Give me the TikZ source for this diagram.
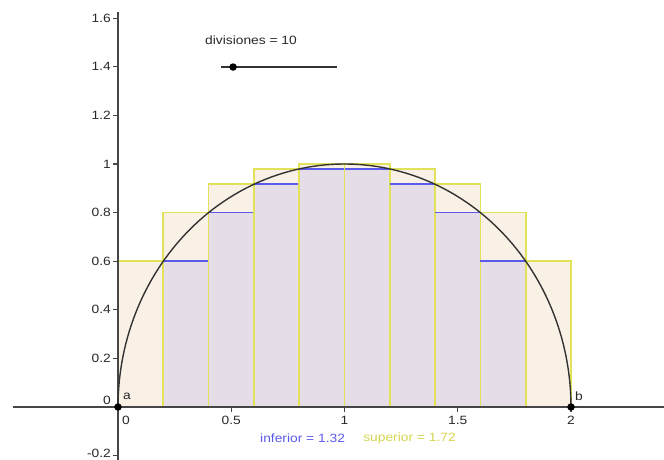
\documentclass[tikz,border=0pt]{standalone}
\usepackage{fontspec}
\setmainfont{Liberation Sans}[FakeStretch=1.15]
\usetikzlibrary{calc}
\definecolor{upfill}{RGB}{249,241,229}
\definecolor{lowfill}{RGB}{229,222,233}
\definecolor{sumyellow}{RGB}{225,225,90}
\definecolor{supyellow}{RGB}{212,212,80}
\definecolor{sumblue}{RGB}{90,90,235}
\definecolor{axisgray}{RGB}{70,70,70}
\definecolor{labelgray}{RGB}{40,40,40}

\begin{document}
\begin{tikzpicture}[
  x=226.5pt, y=243pt,
  font=\fontsize{12}{14}\selectfont,
  axis/.style={draw=axisgray, line width=1.5pt},
  tick/.style={draw=axisgray, line width=1.1pt},
  ticklab/.style={text=labelgray, inner sep=0pt},
  upbar/.style={draw=sumyellow, line width=1.6pt},
  lowtop/.style={draw=sumblue, line width=1.6pt},
  curve/.style={draw=black!80, line width=1.4pt},
  pnt/.style={circle, fill=black, inner sep=0pt, minimum size=7.5pt},
  ptlab/.style={text=labelgray, inner sep=0pt}
]

% Frame
\useasboundingbox (-0.52097,-0.21811) rectangle (2.41060,1.67490);

% Upper and lower sums
\foreach \i in {0,...,9}{
  \pgfmathsetmacro\xa{\i/5}
  \pgfmathsetmacro\xb{(\i+1)/5}
  \pgfmathsetmacro\fa{sqrt(max(0,1-(\xa-1)^2))}
  \pgfmathsetmacro\fb{sqrt(max(0,1-(\xb-1)^2))}
  \pgfmathsetmacro\hi{max(\fa,\fb)}
  \fill[upfill] (\xa,0) rectangle (\xb,\hi);
}
\foreach \i in {0,...,9}{
  \pgfmathsetmacro\xa{\i/5}
  \pgfmathsetmacro\xb{(\i+1)/5}
  \pgfmathsetmacro\fa{sqrt(max(0,1-(\xa-1)^2))}
  \pgfmathsetmacro\fb{sqrt(max(0,1-(\xb-1)^2))}
  \pgfmathsetmacro\lo{min(\fa,\fb)}
  \fill[lowfill] (\xa,0) rectangle (\xb,\lo);
}
\foreach \i in {0,...,9}{
  \pgfmathsetmacro\xa{\i/5}
  \pgfmathsetmacro\xb{(\i+1)/5}
  \pgfmathsetmacro\fa{sqrt(max(0,1-(\xa-1)^2))}
  \pgfmathsetmacro\fb{sqrt(max(0,1-(\xb-1)^2))}
  \pgfmathsetmacro\hi{max(\fa,\fb)}
  \pgfmathsetmacro\lo{min(\fa,\fb)}
  \draw[upbar] (\xa,0) rectangle (\xb,\hi);
  \ifdim\lo pt>0pt \draw[lowtop] (\xa,\lo) -- (\xb,\lo); \fi
}

% Axes
\draw[axis] (-0.4636,0) -- (2.4106,0);
\draw[axis] (0,-0.21811) -- (0,1.6255);

% y ticks
\foreach \v in {0.2,0.4,0.6,0.8,1,1.2,1.4,1.6}{
  \draw[tick] ([xshift=-5pt]0,\v) -- (0,\v);
  \node[ticklab, anchor=east] at ([xshift=-7pt]0,\v) {\v};
}
\draw[tick] ([xshift=-5pt]0,-0.2) -- (0,-0.2);
\node[ticklab, anchor=east] (ylabm) at ([xshift=-7pt,yshift=2.5pt]0,-0.2) {-0.2};
\node[ticklab, anchor=east] (ylab0) at ([xshift=-7pt,yshift=7pt]0,0) {0};

% x ticks
\foreach \v in {0.5,1,1.5,2}{
  \draw[tick] (\v,0) -- ([yshift=-5pt]\v,0);
  \node[ticklab] at ([yshift=-13pt]\v,0) {\v};
}
\node[ticklab] (xlab0) at ([xshift=8pt,yshift=-13pt]0,0) {0};

% Semicircle
\draw[curve] plot[domain=180:0, samples=120] ({1+cos(\x)},{sin(\x)});

% End points
\node[pnt] (pa) at (0,0) {};
\node[pnt] (pb) at (2,0) {};
\node[ptlab] (la) at ([xshift=9pt,yshift=11pt]pa.center) {a};
\node[ptlab] (lb) at ([xshift=8pt,yshift=11pt]pb.center) {b};

% Slider
\node[text=labelgray, anchor=west, inner sep=0pt] (slidertxt) at (0.384,1.510) {divisiones = 10};
\coordinate (sl0) at (0.455,1.399);
\coordinate (sl1) at (0.967,1.399);
\draw[draw=black!80, line width=1.2pt] (sl0) -- (sl1);
\node[pnt] (knob) at (0.508,1.399) {};

% Sums
\node[text=sumblue, anchor=west, inner sep=0pt] (inf) at (0.627,-0.1276) {inferior = 1.32};
\node[text=supyellow, anchor=west, inner sep=0pt] (sup) at (1.082,-0.1276) {superior = 1.72};

\end{tikzpicture}
\end{document}
